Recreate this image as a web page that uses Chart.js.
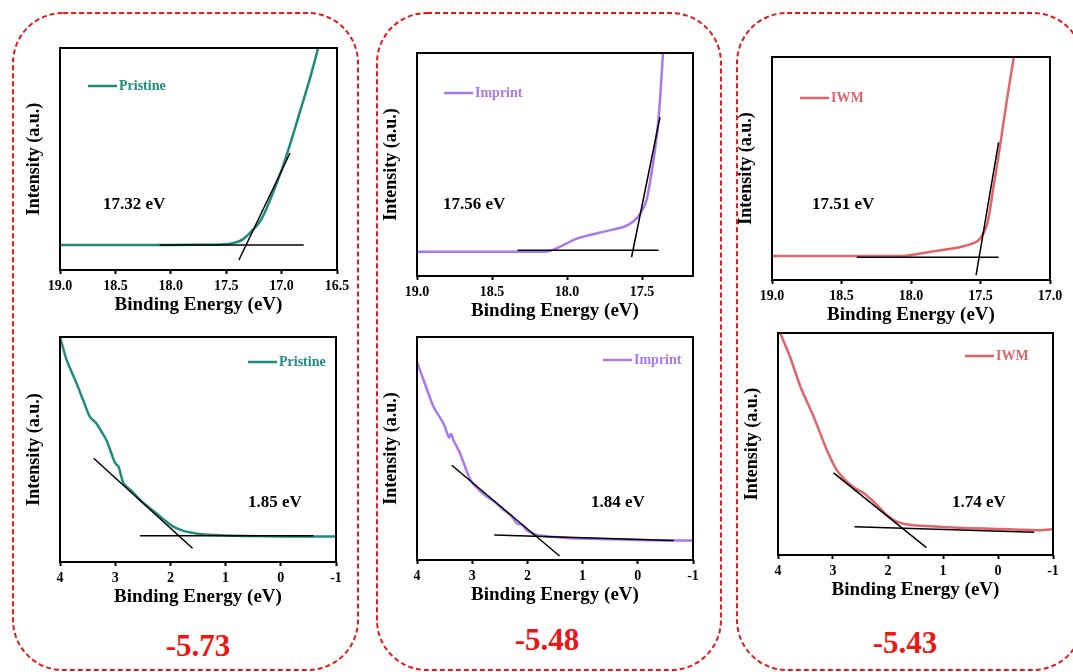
<!DOCTYPE html>
<html>
<head>
<meta charset="utf-8">
<script src="https://cdn.jsdelivr.net/npm/chart.js@4/dist/chart.umd.min.js"></script>
<style>
  html, body { margin: 0; padding: 0; background: #fff; }
  body { width: 1073px; height: 672px; overflow: hidden; position: relative; }
  canvas { position: absolute; }
  svg { position: absolute; left: 0; top: 0; }
  .level {
    position: absolute; transform: translate(-50%, -50%);
    font: bold 31px "Liberation Serif", "Times New Roman", serif;
    color: #ee1515; white-space: nowrap;
  }
</style>
</head>
<body>
<svg width="1073" height="672">
  <g fill="none" stroke="#e3191c" stroke-width="2" stroke-dasharray="5 3">
    <rect x="13" y="13" width="345" height="657" rx="50" ry="50"/>
    <rect x="377" y="13" width="344" height="657" rx="50" ry="50"/>
    <rect x="737" y="13" width="346" height="657" rx="50" ry="50"/>
  </g>
</svg>
<script>
// ---- Samples ----
const samples = ['Pristine', 'Imprint', 'IWM'];

// ---- Secondary-electron cutoff region (binding energy in eV, intensity in a.u.) ----
const pristineCutoffE = [19.0, 18.5, 18.0, 17.6, 17.5, 17.45, 17.40, 17.35, 17.285, 17.2, 17.13, 17.0, 16.92, 16.83, 16.74, 16.67];
const pristineCutoffI = [11.3, 11.3, 11.3, 11.4, 11.6, 12.0, 12.6, 13.8, 16.7, 21.5, 28.4, 45.0, 57.2, 72.0, 87.0, 100];
const imprintCutoffE = [19.0, 18.5, 18.13, 18.07, 17.93, 17.76, 17.62, 17.56, 17.51, 17.47, 17.43, 17.40, 17.38, 17.36];
const imprintCutoffI = [10.9, 10.9, 11.0, 12.4, 16.9, 19.8, 22.1, 24.3, 28.1, 34.0, 48.9, 63.9, 78.8, 100];
const iwmCutoffE = [19.0, 18.5, 18.03, 17.86, 17.65, 17.55, 17.50, 17.45, 17.41, 17.36, 17.31, 17.26];
const iwmCutoffI = [10.8, 10.8, 10.9, 12.7, 14.7, 16.5, 18.7, 25.5, 40.4, 59.9, 80.8, 100];

// ---- Valence band region ----
const pristineValenceE = [4.0, 3.88, 3.70, 3.55, 3.46, 3.34, 3.25, 3.16, 3.05, 3.00, 2.94, 2.85, 2.70, 2.55, 2.40, 2.25, 2.10, 1.95, 1.80, 1.71, 1.47, 1.2, 0.86, 0.4, -0.05, -0.5, -1.0];
const pristineValenceI = [100, 89.8, 79.4, 70.0, 64.6, 61.6, 58.0, 54.2, 47.0, 43.9, 42.4, 35.0, 31.5, 27.6, 24.5, 21.6, 18.5, 15.7, 14.2, 13.5, 12.4, 12.0, 11.7, 11.5, 11.3, 11.3, 11.3];
const imprintValenceE = [4.0, 3.88, 3.70, 3.52, 3.42, 3.38, 3.34, 3.22, 3.03, 2.88, 2.73, 2.58, 2.43, 2.30, 2.19, 2.10, 2.01, 1.83, 1.5, 1.22, 0.6, 0.02, -0.5, -1.0];
const imprintValenceI = [88.8, 80.6, 68.7, 61.2, 55.0, 56.5, 53.7, 47.8, 35.8, 31.5, 28.4, 25.8, 22.4, 20.0, 16.4, 15.8, 13.4, 11.2, 10.3, 9.7, 9.3, 9.0, 8.8, 8.7];
const iwmValenceE = [3.96, 3.78, 3.59, 3.35, 3.11, 2.93, 2.75, 2.60, 2.44, 2.26, 2.14, 2.02, 1.84, 1.59, 1.2, 0.93, 0.5, 0.02, -0.4, -0.77, -1.0];
const iwmValenceI = [100, 89.2, 75.7, 62.2, 47.2, 38.2, 33.0, 30.0, 27.8, 24.0, 21.0, 18.0, 15.0, 13.5, 12.9, 12.5, 12.1, 11.7, 11.4, 11.2, 11.6];

// ---- Onsets from the linear extrapolations ----
const cutoffOnsets = [17.32, 17.56, 17.51];
const valenceOnsets = [1.85, 1.84, 1.74];
const homoLevels = [-5.73, -5.48, -5.43];

// ---- Background lines and tangent anchors ----
const cutoffBaseE = [[18.10, 16.80], [18.33, 17.39], [18.39, 17.37]];
const cutoffBaseI = [[11.3, 11.3], [11.6, 11.6], [10.2, 10.2]];
const cutoffTangentTopE = [16.924, 17.38, 17.37];
const cutoffTangentTopI = [52.7, 71.3, 61.7];
const cutoffTangentLowI = [4.5, 8.4, 2.2];
const valenceBaseE = [[2.55, -0.59], [2.60, -0.65], [2.61, -0.66]];
const valenceBaseI = [[11.7, 11.7], [11.2, 8.7], [12.7, 10.3]];
const valenceTangentTopE = [3.39, 3.37, 2.99];
const valenceTangentTopI = [46.1, 42.5, 37.0];
const valenceTangentLowI = [6.1, 1.8, 3.3];

// ---- Axis ticks ----
const cutoffTicks = [19.0, 18.5, 18.0, 17.5, 17.0, 16.5];
const valenceTicks = [4, 3, 2, 1, 0, -1];

// ---- Styling ----
const sampleColors = ['#1f8b7d', '#a878f0', '#e0646a'];
const SERIF = '"Liberation Serif", "Times New Roman", serif';
const Y_AXIS_W = 56, X_AXIS_H = 52, PAD_T = 12, PAD_R = 24;

const cutoffCurves = [[pristineCutoffE, pristineCutoffI], [imprintCutoffE, imprintCutoffI], [iwmCutoffE, iwmCutoffI]];
const valenceCurves = [[pristineValenceE, pristineValenceI], [imprintValenceE, imprintValenceI], [iwmValenceE, iwmValenceI]];

function points(E, I) { return E.map((e, k) => ({ x: e, y: I[k] })); }

// Tangent that crosses the background line exactly at the stated onset
function tangentThrough(onset, baseE, baseI, topE, topI, lowI) {
  const baseOn = baseI[0] + (baseI[1] - baseI[0]) * (onset - baseE[0]) / (baseE[1] - baseE[0]);
  const lowE = onset + (topE - onset) * (lowI - baseOn) / (topI - baseOn);
  return [{ x: lowE, y: lowI }, { x: topE, y: topI }];
}

// Frame around the plot area, plus the inset legend and onset note
const panelDecor = {
  id: 'panelDecor',
  afterDatasetsDraw(chart, args, o) {
    const { ctx, chartArea: a } = chart;
    ctx.save();
    ctx.strokeStyle = '#000';
    ctx.lineWidth = 2;
    ctx.strokeRect(a.left, a.top, a.right - a.left, a.bottom - a.top);

    const lx = o.legendX - o.originX, ly = o.legendY - o.originY;
    ctx.strokeStyle = o.color;
    ctx.lineWidth = 2.5;
    ctx.beginPath();
    ctx.moveTo(lx, ly);
    ctx.lineTo(lx + 29, ly);
    ctx.stroke();
    ctx.fillStyle = o.color;
    ctx.font = 'bold 14px ' + SERIF;
    ctx.textBaseline = 'middle';
    ctx.textAlign = 'left';
    ctx.fillText(o.label, lx + 31, ly);

    ctx.fillStyle = '#000';
    ctx.font = 'bold 17px ' + SERIF;
    ctx.fillText(o.note, o.noteX - o.originX, o.noteY - o.originY);
    ctx.restore();
  }
};

function makePanel(p) {
  const [l, t, r, b] = p.plot;
  const originX = l - Y_AXIS_W, originY = t - PAD_T;
  const canvas = document.createElement('canvas');
  canvas.width = r - l + Y_AXIS_W + PAD_R;
  canvas.height = b - t + PAD_T + X_AXIS_H;
  canvas.style.left = originX + 'px';
  canvas.style.top = originY + 'px';
  document.body.appendChild(canvas);

  const s = p.sample;
  const isCutoff = p.kind === 'cutoff';
  const [E, I] = isCutoff ? cutoffCurves[s] : valenceCurves[s];
  const onset = isCutoff ? cutoffOnsets[s] : valenceOnsets[s];
  const baseE = isCutoff ? cutoffBaseE[s] : valenceBaseE[s];
  const baseI = isCutoff ? cutoffBaseI[s] : valenceBaseI[s];
  const tangent = isCutoff
    ? tangentThrough(onset, baseE, baseI, cutoffTangentTopE[s], cutoffTangentTopI[s], cutoffTangentLowI[s])
    : tangentThrough(onset, baseE, baseI, valenceTangentTopE[s], valenceTangentTopI[s], valenceTangentLowI[s]);
  const tickList = (isCutoff ? cutoffTicks : valenceTicks).filter(v => v >= p.min - 1e-9 && v <= p.max + 1e-9);

  new Chart(canvas, {
    type: 'scatter',
    data: {
      datasets: [
        { data: points(E, I), showLine: true, borderColor: sampleColors[s], borderWidth: 2.5,
          pointRadius: 0, tension: 0.25, order: 2 },
        { data: points(baseE, baseI), showLine: true, borderColor: '#000', borderWidth: 1.5,
          pointRadius: 0, order: 1 },
        { data: tangent, showLine: true, borderColor: '#000', borderWidth: 1.5,
          pointRadius: 0, order: 1 }
      ]
    },
    options: {
      responsive: false,
      animation: false,
      devicePixelRatio: 1,
      layout: { padding: { top: PAD_T, right: PAD_R, left: 0, bottom: 0 } },
      plugins: {
        legend: { display: false },
        tooltip: { enabled: false },
        panelDecor: {
          originX, originY, color: sampleColors[s], label: samples[s],
          legendX: p.legend[0], legendY: p.legend[1],
          note: onset.toFixed(2) + ' eV', noteX: p.note[0], noteY: p.note[1]
        }
      },
      scales: {
        x: {
          type: 'linear', reverse: true, min: p.min, max: p.max,
          afterBuildTicks: axis => { axis.ticks = tickList.map(v => ({ value: v })); },
          afterFit: sc => { sc.height = X_AXIS_H; },
          grid: { display: true, drawOnChartArea: false, drawTicks: true, tickLength: 4,
                  tickWidth: 2, tickColor: '#000' },
          border: { display: false },
          ticks: {
            padding: 4, color: '#000', maxRotation: 0, autoSkip: false,
            font: { family: SERIF, size: 14, weight: 'bold' },
            callback: v => isCutoff ? Number(v).toFixed(1) : String(v)
          },
          title: {
            display: true, text: 'Binding Energy (eV)', color: '#000',
            font: { family: SERIF, size: 19, weight: 'bold' },
            padding: { top: 0, bottom: 5.5 }
          }
        },
        y: {
          type: 'linear', min: 0, max: 100,
          afterFit: sc => { sc.width = Y_AXIS_W; },
          grid: { display: false },
          border: { display: false },
          ticks: { display: false },
          title: {
            display: true, text: 'Intensity (a.u.)', color: '#000',
            font: { family: SERIF, size: 18, weight: 'bold' },
            padding: { top: 20, bottom: 0 }
          }
        }
      }
    },
    plugins: [panelDecor]
  });
}

const panels = [
  { kind: 'cutoff',  sample: 0, plot: [60, 48, 337, 270],   min: 16.5,  max: 19, legend: [88, 86],   note: [103, 205] },
  { kind: 'valence', sample: 0, plot: [60, 337, 336, 562],  min: -1,    max: 4,  legend: [248, 362], note: [248, 503] },
  { kind: 'cutoff',  sample: 1, plot: [417, 53, 693, 276],  min: 17.16, max: 19, legend: [444, 93],  note: [443, 205] },
  { kind: 'valence', sample: 1, plot: [417, 337, 693, 560], min: -1,    max: 4,  legend: [603, 360], note: [591, 503] },
  { kind: 'cutoff',  sample: 2, plot: [772, 57, 1050, 280], min: 17.0,  max: 19, legend: [800, 98],  note: [812, 205] },
  { kind: 'valence', sample: 2, plot: [778, 333, 1053, 555], min: -1,   max: 4,  legend: [965, 356], note: [952, 503] }
];
panels.forEach(makePanel);

// HOMO level labels under each column
const levelPos = [[198, 646], [547, 640], [905, 643]];
homoLevels.forEach((v, k) => {
  const d = document.createElement('div');
  d.className = 'level';
  d.textContent = v.toFixed(2);
  d.style.left = levelPos[k][0] + 'px';
  d.style.top = levelPos[k][1] + 'px';
  document.body.appendChild(d);
});
</script>
</body>
</html>
